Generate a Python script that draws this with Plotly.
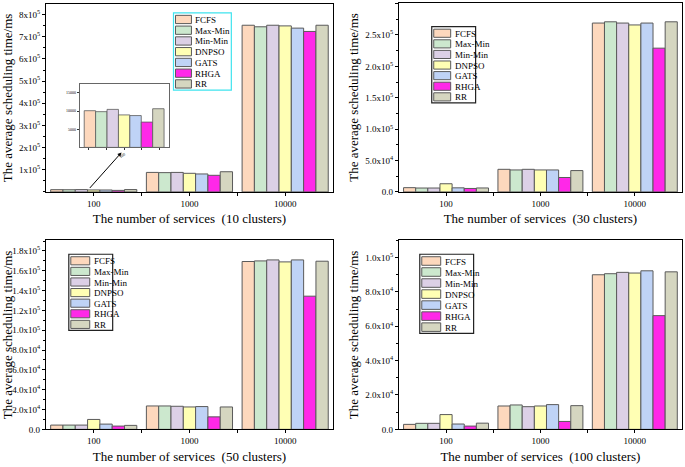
import plotly.graph_objects as go

# ---------------- data ----------------
categories = ["100", "1000", "10000"]
algorithms = ["FCFS", "Max-Min", "Min-Min", "DNPSO", "GATS", "RHGA", "RR"]

# 10 clusters
c10_fcfs = [10090, 88000, 752000]
c10_maxmin = [9820, 87000, 745000]
c10_minmin = [10450, 88000, 752000]
c10_dnpso = [8930, 84000, 749000]
c10_gats = [8750, 81000, 739000]
c10_rhga = [6960, 75000, 724000]
c10_rr = [10630, 91000, 752000]

# 30 clusters
c30_fcfs = [6800, 36000, 269000]
c30_maxmin = [6200, 35000, 271000]
c30_minmin = [6200, 36000, 269000]
c30_dnpso = [13000, 35000, 266000]
c30_gats = [6500, 35000, 269000]
c30_rhga = [5500, 23000, 229000]
c30_rr = [6300, 34000, 271000]

# 50 clusters
c50_fcfs = [4300, 23600, 169400]
c50_maxmin = [4300, 23600, 170000]
c50_minmin = [4300, 23300, 171000]
c50_dnpso = [10000, 22600, 169000]
c50_gats = [5300, 23000, 171000]
c50_rhga = [3300, 12600, 134400]
c50_rr = [4000, 22600, 169700]

# 100 clusters
c100_fcfs = [2900, 13600, 90000]
c100_maxmin = [3500, 14200, 90600]
c100_minmin = [3500, 13200, 91400]
c100_dnpso = [8600, 13600, 91000]
c100_gats = [3100, 14400, 92300]
c100_rhga = [1900, 4600, 66200]
c100_rr = [3600, 13800, 91700]

panel_data = [
    [c10_fcfs, c10_maxmin, c10_minmin, c10_dnpso, c10_gats, c10_rhga, c10_rr],
    [c30_fcfs, c30_maxmin, c30_minmin, c30_dnpso, c30_gats, c30_rhga, c30_rr],
    [c50_fcfs, c50_maxmin, c50_minmin, c50_dnpso, c50_gats, c50_rhga, c50_rr],
    [c100_fcfs, c100_maxmin, c100_minmin, c100_dnpso, c100_gats, c100_rhga, c100_rr],
]
cluster_labels = ["10 clusters", "30 clusters", "50 clusters", "100 clusters"]

# y tick labels per panel
p1_tickvals = [100000, 200000, 300000, 400000, 500000, 600000, 700000, 800000]
p1_ticktext = ["%dx10<sup>5</sup>" % k for k in range(1, 9)]
p2_tickvals = [0, 50000, 100000, 150000, 200000, 250000, 300000]
p2_ticktext = ["0.0", "5.0x10<sup>4</sup>", "1.0x10<sup>5</sup>", "1.5x10<sup>5</sup>",
               "2.0x10<sup>5</sup>", "2.5x10<sup>5</sup>", "3.0x10<sup>5</sup>"]
p3_tickvals = [0, 20000, 40000, 60000, 80000, 100000, 120000, 140000, 160000, 180000]
p3_ticktext = ["0.0", "2.0x10<sup>4</sup>", "4.0x10<sup>4</sup>", "6.0x10<sup>4</sup>",
               "8.0x10<sup>4</sup>", "1.0x10<sup>5</sup>", "1.2x10<sup>5</sup>",
               "1.4x10<sup>5</sup>", "1.6x10<sup>5</sup>", "1.8x10<sup>5</sup>"]
p4_tickvals = [0, 20000, 40000, 60000, 80000, 100000]
p4_ticktext = ["0.0", "2.0x10<sup>4</sup>", "4.0x10<sup>4</sup>", "6.0x10<sup>4</sup>",
               "8.0x10<sup>4</sup>", "1.0x10<sup>5</sup>"]
inset_tickvals = [5000, 10000, 15000]
inset_ticktext = ["5000", "10000", "15000"]

# ---------------- styles ----------------
colors = ["#FDD8BD", "#CCE8CE", "#DCD0E6", "#FFFFB4", "#BFD3F6", "#FF28E8", "#D5D6C0"]
edge = "#5a5a5a"
FONT = "Liberation Serif"
W, H = 685, 467


def px_x(p):
    return p / W


def px_y(p):
    return 1 - p / H


# panel geometry in pixels: (left, right, top, bottom)
panels_px = [
    (44, 332, 4, 194),
    (398, 682, 3, 194),
    (44, 332, 243, 434),
    (398, 682, 243, 434),
]
y_ranges = [[0, 848000], [0, 301000], [0, 190700], [0, 110000]]
y_ticks = [(p1_tickvals, p1_ticktext, 50000), (p2_tickvals, p2_ticktext, 25000),
           (p3_tickvals, p3_ticktext, 10000), (p4_tickvals, p4_ticktext, 10000)]

fig = go.Figure()
xpos = list(range(len(categories)))

for p in range(4):
    suffix = "" if p == 0 else str(p + 1)
    for i, name in enumerate(algorithms):
        fig.add_trace(go.Bar(
            x=xpos, y=panel_data[p][i], name=name,
            xaxis="x" + suffix, yaxis="y" + suffix,
            marker=dict(color=colors[i], line=dict(color=edge, width=1)),
            showlegend=False,
        ))

# inset (10 clusters, 100 services)
for i, name in enumerate(algorithms):
    fig.add_trace(go.Bar(
        x=[0], y=[panel_data[0][i][0]], name=name,
        xaxis="x5", yaxis="y5", width=0.9 / 7, offset=-0.45 + i * 0.9 / 7,
        marker=dict(color=colors[i], line=dict(color=edge, width=0.8)),
        showlegend=False,
    ))

layout = dict(
    width=W, height=H,
    margin=dict(l=0, r=0, t=0, b=0),
    paper_bgcolor="white", plot_bgcolor="white",
    barmode="group", bargap=0.1, bargroupgap=0,
    font=dict(family=FONT, color="black", size=9),
    showlegend=False,
)

for p in range(4):
    l, r, t, b = panels_px[p]
    suffix = "" if p == 0 else str(p + 1)
    tv, tt, minor_dt = y_ticks[p]
    layout["xaxis" + suffix] = dict(
        domain=[px_x(l), px_x(r)], anchor="y" + suffix,
        range=[-0.5, 2.5], tickmode="array", tickvals=xpos, ticktext=categories,
        ticks="outside", ticklen=3, tickcolor="black",
        minor=dict(tickmode="array", tickvals=[0.5, 1.5], ticks="outside", ticklen=3, tickcolor="black"),
        showline=True, linecolor="black", linewidth=1, mirror=True,
        showgrid=False, zeroline=False, tickfont=dict(size=9, family=FONT),
        title=dict(text="The number of services\u00a0 (" + cluster_labels[p] + ")",
                   font=dict(size=13, family=FONT), standoff=6),
    )
    layout["yaxis" + suffix] = dict(
        domain=[px_y(b), px_y(t)], anchor="x" + suffix,
        range=y_ranges[p], tickmode="array", tickvals=tv, ticktext=tt,
        ticks="outside", ticklen=3, tickcolor="black",
        minor=dict(tickmode="linear", tick0=0, dtick=minor_dt, ticks="outside", ticklen=2, tickcolor="black"),
        showline=True, linecolor="black", linewidth=1, mirror=True,
        showgrid=False, zeroline=False, tickfont=dict(size=9, family=FONT),
        title=dict(text="The average scheduling time/ms", font=dict(size=13, family=FONT), standoff=3),
    )

# inset axes
layout["xaxis5"] = dict(
    domain=[px_x(78), px_x(167)], anchor="y5", range=[-0.5, 0.5],
    tickmode="array", tickvals=[0], ticktext=["100"], tickangle=-40,
    ticks="outside", ticklen=2, tickcolor="#333",
    minor=dict(tickmode="linear", tick0=-0.4, dtick=0.2, ticks="outside", ticklen=2, tickcolor="#333"),
    showline=True, linecolor="#666", linewidth=1, mirror=True,
    showgrid=False, zeroline=False, tickfont=dict(size=4, family=FONT),
)
layout["yaxis5"] = dict(
    domain=[px_y(149), px_y(85)], anchor="x5", range=[0, 17400],
    tickmode="array", tickvals=inset_tickvals, ticktext=inset_ticktext,
    ticks="outside", ticklen=2, tickcolor="#333",
    showline=True, linecolor="#666", linewidth=1, mirror=True,
    showgrid=False, zeroline=False, tickfont=dict(size=4, family=FONT),
)

fig.update_layout(**layout)

# arrow from the small bars to the inset
fig.add_annotation(
    x=0.29, y=178000, xref="x", yref="y", ax=-33, ay=37,
    showarrow=True, arrowhead=2, arrowsize=0.8, arrowwidth=1, arrowcolor="black", text="",
)

# ---------------- legends (one box per panel) ----------------
legend_px = [
    # left, top, width, height, swatch width, border colour
    (172, 13, 58, 78, 16, "#3FE3EE"),
    (431, 27, 44, 77, 17, "#222222"),
    (67, 257, 44, 77, 19, "#222222"),
    (419, 257, 54, 80, 19, "#222222"),
]
for (lx, ty, lw, lh, sw, bc) in legend_px:
    fig.add_shape(type="rect", xref="paper", yref="paper",
                  x0=px_x(lx), x1=px_x(lx + lw), y0=px_y(ty + lh), y1=px_y(ty),
                  fillcolor="white", line=dict(color=bc, width=1.2))
    pitch = (lh - 2) / len(algorithms)
    for i, name in enumerate(algorithms):
        y0 = ty + 1.5 + i * pitch
        fig.add_shape(type="rect", xref="paper", yref="paper",
                      x0=px_x(lx + 2), x1=px_x(lx + 2 + sw),
                      y0=px_y(y0 + pitch - 1.5), y1=px_y(y0 + 1),
                      fillcolor=colors[i], line=dict(color=edge, width=1))
        fig.add_annotation(x=px_x(lx + sw + 4), y=px_y(y0 + pitch / 2 + 0.3),
                           xref="paper", yref="paper", xanchor="left", yanchor="middle",
                           text=name, showarrow=False, font=dict(size=9, family=FONT))

fig.write_html(
    "out.html",
    config={"displayModeBar": False},
    post_script="document.body.style.margin='0';document.body.style.overflow='hidden';",
)
